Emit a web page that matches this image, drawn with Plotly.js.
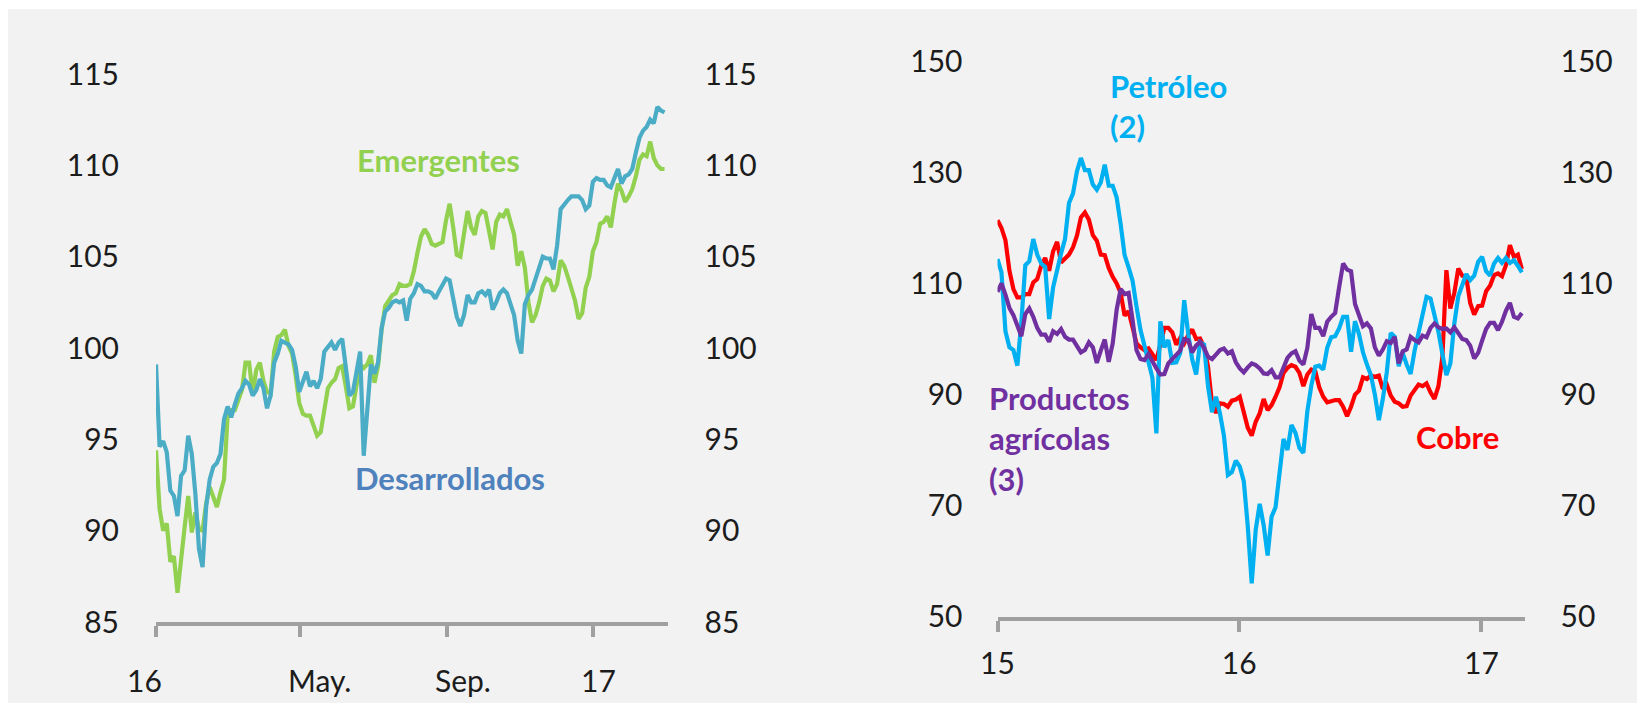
<!DOCTYPE html>
<html>
<head>
<meta charset="utf-8">
<script src="https://cdn.plot.ly/plotly-3.0.1.min.js"></script>
<style>
html,body{margin:0;padding:0;background:#ffffff;overflow:hidden;width:1637px;height:703px;}
#chart{position:absolute;left:8px;top:9px;width:1629px;height:694px;}
</style>
</head>
<body>
<div id="chart"></div>
<script>
// ---------- Left panel: Bolsas (índices) ----------
const leftDates = [
"2016-01-01","2016-01-04","2016-01-07","2016-01-10","2016-01-13","2016-01-16","2016-01-19","2016-01-22","2016-01-25","2016-01-28","2016-01-31",
"2016-02-03","2016-02-06","2016-02-09","2016-02-12","2016-02-15","2016-02-18","2016-02-21","2016-02-24","2016-02-27",
"2016-03-01","2016-03-04","2016-03-07","2016-03-10","2016-03-13","2016-03-16","2016-03-19","2016-03-22","2016-03-25","2016-03-28","2016-03-31",
"2016-04-03","2016-04-06","2016-04-09","2016-04-12","2016-04-15","2016-04-18","2016-04-21","2016-04-24","2016-04-27","2016-04-30",
"2016-05-03","2016-05-06","2016-05-09","2016-05-12","2016-05-15","2016-05-18","2016-05-21","2016-05-24","2016-05-27","2016-05-30",
"2016-06-02","2016-06-05","2016-06-08","2016-06-11","2016-06-14","2016-06-17","2016-06-20","2016-06-23","2016-06-26","2016-06-29",
"2016-07-02","2016-07-05","2016-07-08","2016-07-11","2016-07-14","2016-07-17","2016-07-20","2016-07-23","2016-07-26","2016-07-29",
"2016-08-01","2016-08-04","2016-08-07","2016-08-10","2016-08-13","2016-08-16","2016-08-19","2016-08-22","2016-08-25","2016-08-28","2016-08-31",
"2016-09-03","2016-09-06","2016-09-09","2016-09-12","2016-09-15","2016-09-18","2016-09-21","2016-09-24","2016-09-27","2016-09-30",
"2016-10-03","2016-10-06","2016-10-09","2016-10-12","2016-10-15","2016-10-18","2016-10-21","2016-10-24","2016-10-27","2016-10-30",
"2016-11-02","2016-11-05","2016-11-08","2016-11-11","2016-11-14","2016-11-17","2016-11-20","2016-11-23","2016-11-26","2016-11-29",
"2016-12-02","2016-12-05","2016-12-08","2016-12-11","2016-12-14","2016-12-17","2016-12-20","2016-12-23","2016-12-26","2016-12-29",
"2017-01-01","2017-01-04","2017-01-07","2017-01-10","2017-01-13","2017-01-16","2017-01-19","2017-01-22","2017-01-25","2017-01-28","2017-01-31",
"2017-02-03","2017-02-06","2017-02-09","2017-02-12","2017-02-15","2017-02-18","2017-02-21","2017-02-24","2017-02-27",
"2017-03-02"
];
const desarrollados = [
99.1,94.6,94.9,94.3,92.2,91.9,90.8,93.0,93.3,95.2,94.2,
92.0,89.0,88.0,91.3,92.8,93.5,93.7,94.2,96.1,
96.8,96.2,96.9,97.5,97.8,98.2,98.0,97.4,97.7,98.3,97.8,
96.7,97.4,99.2,99.7,100.4,100.3,100.2,99.9,99.0,97.6,
98.1,98.7,97.9,98.2,97.8,98.3,99.8,100.1,100.3,99.9,
100.3,100.5,98.9,97.4,97.6,98.7,99.8,94.1,97.0,99.1,
98.6,99.2,101.1,102.0,102.2,102.5,102.6,102.5,102.6,101.5,
102.7,103.0,103.5,103.4,103.1,103.1,103.0,102.7,103.1,103.5,103.8,
103.7,102.8,101.7,101.2,101.8,102.9,102.5,102.5,103.0,103.1,
102.9,103.2,102.1,102.5,103.0,103.2,103.0,102.4,101.8,100.4,
99.7,102.4,102.9,103.2,103.8,104.3,105.0,104.9,104.9,104.3,
105.6,107.6,107.9,108.1,108.3,108.3,108.3,108.1,107.6,107.8,
109.1,109.3,109.2,109.2,108.9,108.8,109.3,109.8,109.0,109.4,109.5,
109.8,110.7,111.5,111.9,112.1,112.5,112.3,113.2,113.0,
112.9
];
const emergentes = [
94.4,91.2,90.0,90.4,88.3,88.6,86.6,88.6,90.2,91.9,89.9,
91.0,90.1,90.0,91.5,92.4,91.9,91.3,92.1,92.8,
96.3,96.6,96.6,97.1,97.7,99.2,99.2,97.5,98.8,99.2,98.2,
97.6,97.5,99.8,100.6,100.7,101.0,100.1,99.7,98.5,97.0,
96.4,96.3,96.3,95.8,95.2,95.4,96.7,97.8,98.1,98.3,
98.9,99.0,97.9,96.7,96.8,98.1,99.1,98.9,99.1,99.6,
98.1,99.0,101.0,102.3,102.6,102.9,103.0,103.5,103.4,103.4,
103.5,104.2,105.2,106.1,106.5,106.2,105.7,105.6,105.7,105.8,107.0,
107.9,106.6,105.1,105.0,106.2,107.5,106.6,106.2,107.2,107.5,
107.4,106.5,105.4,106.9,107.3,107.2,107.6,106.9,106.2,104.5,
105.3,104.4,102.5,101.4,101.8,102.5,103.4,103.8,103.7,103.1,
103.5,104.8,104.5,103.9,103.2,102.6,101.6,101.9,103.3,103.9,
105.3,105.8,106.8,106.9,107.2,106.6,107.9,109.0,108.6,108.0,108.3,
108.7,109.4,110.3,110.6,110.5,111.3,110.4,110.0,109.8,
109.8
];
const leftTickDates = ["2016-01-01","2016-05-01","2016-09-01","2017-01-01"];
const leftTickText = ["16","May.","Sep.","17"];
const leftYTicks = [85,90,95,100,105,110,115];

// ---------- Right panel: Materias primas ----------
const rightDates = [
"2015-01-01","2015-01-07","2015-01-13","2015-01-19","2015-01-25","2015-01-31","2015-02-06","2015-02-12","2015-02-18","2015-02-24",
"2015-03-02","2015-03-08","2015-03-14","2015-03-20","2015-03-26","2015-04-01","2015-04-07","2015-04-13","2015-04-19","2015-04-25",
"2015-05-01","2015-05-07","2015-05-13","2015-05-19","2015-05-25","2015-05-31","2015-06-06","2015-06-12","2015-06-18","2015-06-24",
"2015-06-30","2015-07-06","2015-07-12","2015-07-18","2015-07-24","2015-07-30","2015-08-05","2015-08-11","2015-08-17","2015-08-23",
"2015-08-29","2015-09-04","2015-09-10","2015-09-16","2015-09-22","2015-09-28","2015-10-04","2015-10-10","2015-10-16","2015-10-22",
"2015-10-28","2015-11-03","2015-11-09","2015-11-15","2015-11-21","2015-11-27","2015-12-03","2015-12-09","2015-12-15","2015-12-21",
"2015-12-27",
"2016-01-02","2016-01-08","2016-01-14","2016-01-20","2016-01-26","2016-02-01","2016-02-07","2016-02-13","2016-02-19","2016-02-25",
"2016-03-02","2016-03-08","2016-03-14","2016-03-20","2016-03-26","2016-04-01","2016-04-07","2016-04-13","2016-04-19","2016-04-25",
"2016-05-01","2016-05-07","2016-05-13","2016-05-19","2016-05-25","2016-05-31","2016-06-06","2016-06-12","2016-06-18","2016-06-24",
"2016-06-30","2016-07-06","2016-07-12","2016-07-18","2016-07-24","2016-07-30","2016-08-05","2016-08-11","2016-08-17","2016-08-23",
"2016-08-29","2016-09-04","2016-09-10","2016-09-16","2016-09-22","2016-09-28","2016-10-04","2016-10-10","2016-10-16","2016-10-22",
"2016-10-28","2016-11-03","2016-11-09","2016-11-15","2016-11-21","2016-11-27","2016-12-03","2016-12-09","2016-12-15","2016-12-21",
"2016-12-27",
"2017-01-02","2017-01-08","2017-01-14","2017-01-20","2017-01-26","2017-02-01","2017-02-07","2017-02-13","2017-02-19","2017-02-25",
"2017-03-03"
];
const petroleo = [
114.4,112.0,101.4,98.5,98.0,95.2,103.0,113.3,114.0,118.0,
115.2,113.6,113.0,103.6,109.3,112.8,115.4,118.0,124.5,126.2,
130.2,132.6,130.4,130.4,127.8,126.9,128.2,131.4,127.6,127.6,
125.5,120.7,115.1,112.9,110.5,105.8,101.6,98.8,96.0,93.0,
83.0,103.2,98.5,99.8,95.7,95.8,97.5,107.0,101.0,96.4,
93.6,99.4,99.0,91.5,86.8,89.6,86.6,82.6,75.5,76.0,
78.1,77.0,74.4,66.3,56.0,65.6,70.3,66.5,61.0,68.0,
69.7,76.2,82.0,80.0,84.5,83.1,80.4,79.5,87.0,91.6,
95.0,95.2,94.5,98.4,100.3,100.5,101.9,104.0,104.0,97.7,
103.2,100.9,97.6,95.4,93.5,90.0,85.4,89.2,94.0,101.1,
100.4,95.1,97.5,95.4,93.7,97.9,100.9,104.2,107.6,107.3,
104.2,101.3,97.3,93.5,95.6,102.8,107.7,110.0,111.7,110.6,
111.4,113.9,114.8,112.2,111.4,113.6,114.6,113.7,114.6,113.7,
114.2,113.2,112.0
];
const cobre = [
121.4,120.0,117.8,112.3,109.0,107.5,107.5,108.1,108.1,110.2,
110.8,113.2,114.6,112.3,115.8,117.5,113.8,114.5,115.2,116.5,
118.6,121.9,122.8,121.5,118.7,117.7,115.2,115.1,112.8,111.2,
110.0,108.3,104.2,105.0,102.1,99.2,98.5,98.0,98.3,97.2,
96.2,99.0,102.0,102.0,101.2,99.0,100.2,99.2,100.7,101.7,
100.0,100.1,98.6,95.0,88.4,86.7,88.4,88.3,87.8,88.9,
89.1,89.6,86.7,84.0,82.6,85.1,86.6,89.2,87.2,88.1,
89.6,91.3,93.9,94.8,95.3,95.0,93.9,91.5,93.6,94.5,
94.2,91.3,89.6,88.6,88.8,89.0,89.0,87.8,86.1,87.8,
90.0,90.7,93.1,92.8,93.4,93.2,93.4,91.0,91.8,89.8,
88.7,88.4,87.8,87.9,89.8,90.8,91.8,91.5,92.0,90.4,
89.2,91.5,96.8,112.4,105.5,108.3,112.7,111.4,111.2,106.5,
104.4,105.9,106.0,108.6,109.6,111.5,111.8,111.3,113.3,116.9,
114.8,115.2,112.6
];
const agricolas = [
108.5,110.0,108.0,105.6,104.3,102.1,100.5,104.5,105.5,104.0,
102.0,100.8,100.8,99.5,101.4,100.9,101.8,100.4,99.9,99.9,
98.8,97.6,98.0,99.4,98.5,95.7,97.9,99.9,95.9,99.2,
105.3,109.0,108.1,108.3,103.4,98.0,96.4,96.2,97.3,95.9,
94.7,93.6,93.7,95.6,96.4,97.1,97.9,100.0,99.8,97.6,
98.8,99.5,98.4,96.8,96.4,97.2,98.0,98.3,97.4,97.8,
95.8,94.7,94.0,94.9,95.6,95.3,94.7,93.8,93.7,94.4,
93.1,93.1,94.8,96.6,97.4,97.8,96.1,95.4,98.4,104.5,
102.0,102.0,100.5,103.1,104.0,104.7,109.3,113.6,112.5,112.2,
106.3,104.5,102.3,102.8,101.9,98.5,97.0,98.1,99.6,99.3,
100.4,95.6,97.8,98.1,100.4,99.8,99.4,100.6,100.3,102.0,
102.8,102.1,101.8,101.9,101.2,102.1,100.9,100.0,99.8,98.8,
96.5,97.5,99.7,101.8,102.9,102.9,101.6,103.1,105.1,106.5,
104.0,103.7,104.7
];
const rightTickDates = ["2015-01-01","2016-01-01","2017-01-01"];
const rightTickText = ["15","16","17"];
const rightYTicks = [50,70,90,110,130,150];

// ---------- Layout helpers (page pixel -> paper fraction) ----------
const W = 1629, H = 694, OX = 8, OY = 9;
const fx = x => (x - OX) / W;
const fy = y => 1 - (y - OY) / H;

const FONT = 'Lato, "Open Sans", "Noto Sans", sans-serif';
const TXT = '#1c1c1c';
const AXC = '#a0a0a0';

function xAxis(domain, range, vals, text, anchor, standoff, showLabels) {
  return {
    type: 'date', domain: domain, range: range, anchor: anchor,
    tickmode: 'array', tickvals: vals, ticktext: text, showticklabels: showLabels,
    ticks: 'outside', ticklen: 11, tickwidth: 4, tickcolor: AXC,
    showline: true, linewidth: 4, linecolor: AXC,
    showgrid: false, zeroline: false,
    tickfont: {family: FONT, size: 30, color: TXT},
    ticklabelstandoff: standoff, fixedrange: true
  };
}
function yAxis(domain, range, vals, anchor, side, overlay, len) {
  const a = {
    domain: domain, range: range, anchor: anchor, side: side,
    tickmode: 'array', tickvals: vals,
    ticks: 'outside', ticklen: len, tickcolor: 'rgba(0,0,0,0)',
    showline: false, showgrid: false, zeroline: false,
    tickfont: {family: FONT, size: 30, color: TXT}, fixedrange: true
  };
  if (overlay) a.overlaying = overlay;
  return a;
}

const leftXDom = [fx(156), fx(667.5)];
const leftYDom = [fy(622), fy(74)];
const rightXDom = [fx(997.5), fx(1524.5)];
const rightYDom = [fy(616.6), fy(61.4)];

const LW = 4.2;
const traces = [
  {x: leftDates, y: emergentes, name: 'Emergentes', type: 'scatter', mode: 'lines',
   xaxis: 'x', yaxis: 'y', line: {color: '#92d050', width: LW}},
  {x: leftDates, y: desarrollados, name: 'Desarrollados', type: 'scatter', mode: 'lines',
   xaxis: 'x', yaxis: 'y2', line: {color: '#4bacc6', width: LW}},
  {x: rightDates, y: cobre, name: 'Cobre', type: 'scatter', mode: 'lines',
   xaxis: 'x2', yaxis: 'y3', line: {color: '#ff0000', width: LW}},
  {x: rightDates, y: petroleo, name: 'Petróleo (2)', type: 'scatter', mode: 'lines',
   xaxis: 'x2', yaxis: 'y3', line: {color: '#00b0f0', width: LW}},
  {x: rightDates, y: agricolas, name: 'Productos agrícolas (3)', type: 'scatter', mode: 'lines',
   xaxis: 'x2', yaxis: 'y4', line: {color: '#7030a0', width: LW}}
];

function label(text, x, y, color) {
  return {text: '<b>' + text + '</b>', xref: 'paper', yref: 'paper', x: fx(x), y: fy(y),
          xanchor: 'left', yanchor: 'middle', align: 'left', showarrow: false,
          font: {family: FONT, size: 31, color: color}};
}
// Left x-axis tick labels (placed as in the original, slightly offset from the tick marks)
const leftLabelX = [144, 319, 463, 598];
const leftTickLabels = leftTickText.map((t, i) => ({
  text: t, xref: 'paper', yref: 'paper', x: fx(leftLabelX[i]), y: fy(680),
  xanchor: 'center', yanchor: 'middle', showarrow: false,
  font: {family: FONT, size: 30, color: TXT}
}));

const layout = {
  width: W, height: H,
  margin: {l: 0, r: 0, t: 0, b: 0, pad: 0},
  paper_bgcolor: '#f2f2f2', plot_bgcolor: 'rgba(0,0,0,0)',
  showlegend: false,
  font: {family: FONT, color: TXT},
  xaxis: xAxis(leftXDom, ['2016-01-01', '2017-03-04 12:00'], leftTickDates, leftTickText, 'y', 0, false),
  yaxis: yAxis(leftYDom, [85, 115], leftYTicks, 'x', 'left', null, 30),
  yaxis2: yAxis(leftYDom, [85, 115], leftYTicks, 'x', 'right', 'y', 30),
  xaxis2: xAxis(rightXDom, ['2015-01-01', '2017-03-07'], rightTickDates, rightTickText, 'y3', 6, true),
  yaxis3: yAxis(rightYDom, [50, 150], rightYTicks, 'x2', 'left', null, 28),
  yaxis4: yAxis(rightYDom, [50, 150], rightYTicks, 'x2', 'right', 'y3', 29),
  annotations: [
    label('Emergentes', 355, 160, '#92d050'),
    label('Desarrollados', 353, 478, '#4f81bd'),
    label('Petróleo<br>(2)', 1108, 106, '#00b0f0'),
    label('Productos<br>agrícolas<br>(3)', 987, 438, '#7030a0'),
    label('Cobre', 1414, 437, '#ff0000')
  ].concat(leftTickLabels)
};

Plotly.newPlot('chart', traces, layout, {staticPlot: true, displayModeBar: false});
</script>
</body>
</html>
